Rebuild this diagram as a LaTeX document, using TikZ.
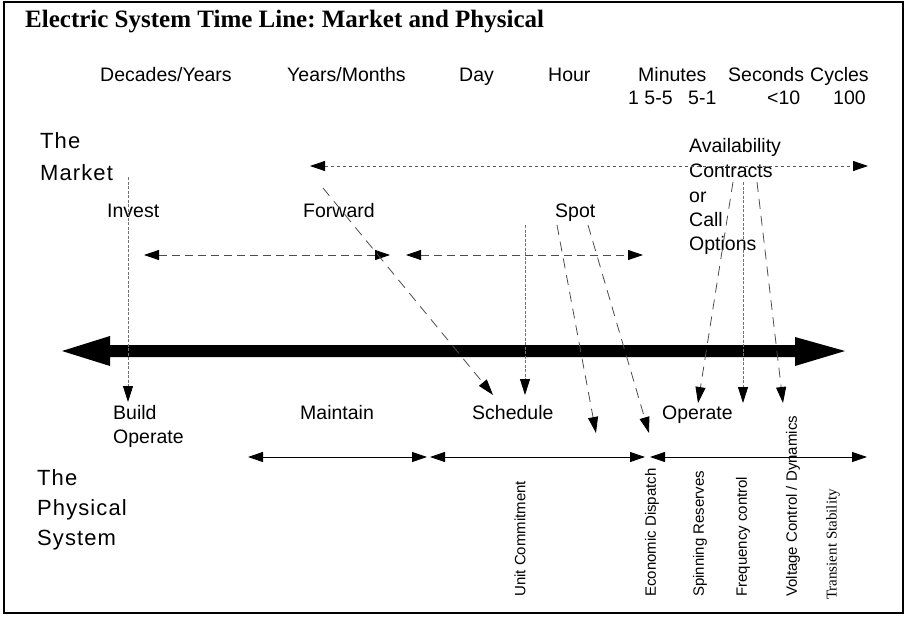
\documentclass[tikz,border=0pt]{standalone}
\usepackage{fontspec}
\setmainfont{Liberation Sans}
\newfontfamily\titlefont{Liberation Serif}
\usetikzlibrary{arrows.meta}
\frenchspacing
\begin{document}
\begin{tikzpicture}[x=1pt,y=-1pt,
  lbl/.style={inner sep=0pt, anchor=base west, font=\fontsize{19.5}{23}\selectfont},
  biglbl/.style={inner sep=0pt, anchor=base west, font=\fontsize{22}{26}\selectfont\addfontfeature{LetterSpace=5}},
  vlab/.style={inner sep=0pt, rotate=90, anchor=west, font=\fontsize{15}{18}\selectfont},
  headtip/.style={-{Triangle[length=16pt,width=10pt,color=black]}},
  twotips/.style={{Triangle[length=15pt,width=10pt,color=black]}-{Triangle[length=15pt,width=10pt,color=black]}},
  fineline/.style={black!65, line width=0.8pt, dash pattern=on 3pt off 3pt},
  midline/.style={black!70, line width=0.8pt, dash pattern=on 8pt off 5pt},
  diagline/.style={black!70, line width=0.8pt, dash pattern=on 10pt off 7pt},
  dotline/.style={black!55, line width=0.8pt, dash pattern=on 3pt off 1.5pt},
  spanline/.style={black, line width=0.9pt},
]
\useasboundingbox (0,0) rectangle (906,618);
\draw[line width=1.2pt] (4,2) rectangle (903,613);

% title
\node[inner sep=0pt, anchor=base west, font=\titlefont\bfseries\fontsize{25}{28}\selectfont]
  (title) at (25,28) {Electric System Time Line: Market and Physical};

% time scale header
\node[lbl] (decades) at (100,82) {Decades/Years};
\node[lbl] (yearsm)  at (287,82) {Years/Months};
\node[lbl] (day)     at (459,82) {Day};
\node[lbl] (hour)    at (548,82) {Hour};
\node[lbl] (minutes) at (638,82) {Minutes};
\node[lbl] (seconds) at (728,82) {Seconds};
\node[lbl] (cycles)  at (810,82) {Cycles};
\node[lbl] (n1) at (628,105) {1 5-5};
\node[lbl] (n2) at (688,105) {5-1};
\node[lbl] (n3) at (767,105) {<10};
\node[lbl] (n4) at (833,105) {100};

% market side
\node[biglbl] (mkt1) at (40,148) {The};
\node[biglbl] (mkt2) at (40,180) {Market};
\node[lbl] (invest)  at (107,217) {Invest};
\node[lbl] (forward) at (303,217) {Forward};
\node[lbl] (spot)    at (555,217) {Spot};
\node[lbl] (av1) at (689,152) {Availability};
\node[lbl] (av2) at (689,177) {Contracts};
\node[lbl] (av3) at (689,202) {or};
\node[lbl] (av4) at (689,226) {Call};
\node[lbl] (av5) at (689,250) {Options};

% physical side
\node[lbl] (build)    at (113,419) {Build};
\node[lbl] (operate1) at (113,443) {Operate};
\node[lbl] (maintain) at (300,419) {Maintain};
\node[lbl] (schedule) at (472,419) {Schedule};
\node[lbl] (operate2) at (662,419) {Operate};
\node[biglbl] (phy1) at (37,485) {The};
\node[biglbl] (phy2) at (37,515) {Physical};
\node[biglbl] (phy3) at (37,545) {System};

\node[vlab] (uc) at (520,597) {Unit Commitment};
\node[vlab] (ed) at (652,597) {Economic Dispatch};
\node[vlab] (sr) at (700,597) {Spinning Reserves};
\node[vlab] (fc) at (743,597) {Frequency control};
\node[vlab] (vc) at (793,597) {Voltage Control / Dynamics};
\node[vlab, font=\titlefont\fontsize{15}{18}\selectfont] (ts) at (833,600) {Transient Stability};

% main time line
\fill (62,351) -- (110,336) -- (110,345) -- (795,345) -- (795,337) -- (845,351)
      -- (795,366) -- (795,357) -- (110,357) -- (110,366) -- cycle;

% connector end points
\coordinate (mL) at (310,166);  \coordinate (mR) at (868,166);
\coordinate (iT) at (128,177);  \coordinate (iB) at (128,402);
\coordinate (ifL) at (144,255); \coordinate (ifR) at (390,255);
\coordinate (fsL) at (406,255); \coordinate (fsR) at (643,255);
\coordinate (fT) at (323,188);  \coordinate (fB) at (493,395);
\coordinate (uT) at (525,225);  \coordinate (uB) at (525,395);
\coordinate (s1T) at (557,225); \coordinate (s1B) at (596,433);
\coordinate (s2T) at (588,225); \coordinate (s2B) at (649,433);
\coordinate (a1T) at (733,182); \coordinate (a1B) at (698,403);
\coordinate (a2T) at (743,182); \coordinate (a2B) at (743,403);
\coordinate (a3T) at (757,182); \coordinate (a3B) at (783,403);
\coordinate (p1L) at (248,457); \coordinate (p1R) at (427,457);
\coordinate (p2L) at (430,457); \coordinate (p2R) at (645,457);
\coordinate (p3L) at (650,457); \coordinate (p3R) at (867,457);

% market spans
\draw[fineline, twotips] (mL) -- (mR);
\draw[midline, twotips] (ifL) -- (ifR);
\draw[midline, twotips] (fsL) -- (fsR);

% market to physical links
\draw[dotline, headtip] (iT) -- (iB);
\draw[diagline, headtip] (fT) -- (fB);
\draw[dotline, headtip] (uT) -- (uB);
\draw[diagline, headtip] (s1T) -- (s1B);
\draw[diagline, headtip] (s2T) -- (s2B);
\draw[diagline, headtip] (a1T) -- (a1B);
\draw[dotline, headtip] (a2T) -- (a2B);
\draw[diagline, headtip] (a3T) -- (a3B);

% physical spans
\draw[spanline, twotips] (p1L) -- (p1R);
\draw[spanline, twotips] (p2L) -- (p2R);
\draw[spanline, twotips] (p3L) -- (p3R);
\end{tikzpicture}
\end{document}
